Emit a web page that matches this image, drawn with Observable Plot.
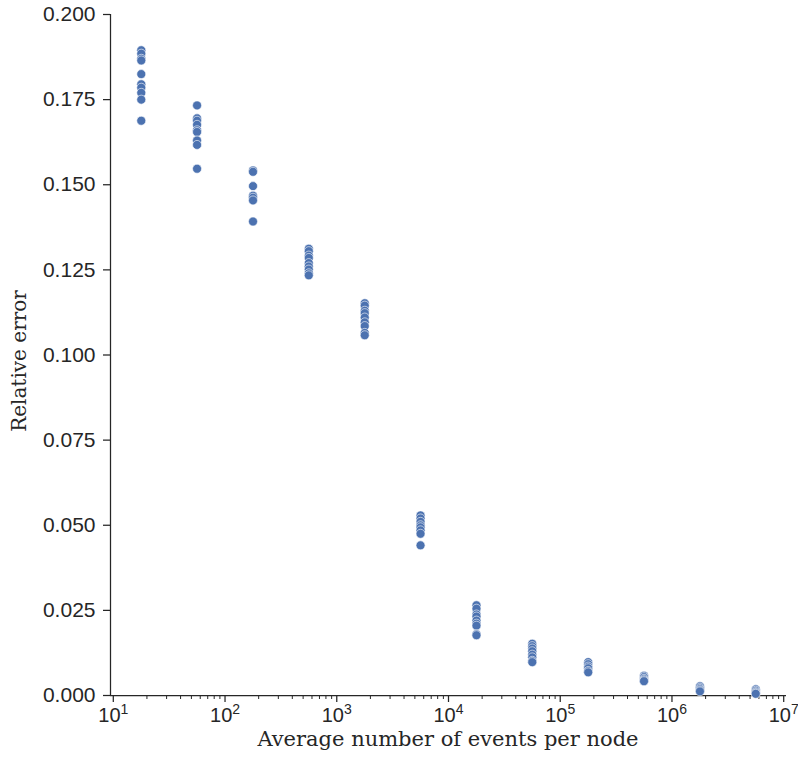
<!DOCTYPE html>
<html>
<head>
<meta charset="utf-8">
<script src="https://cdn.jsdelivr.net/npm/d3@7"></script>
<script src="https://cdn.jsdelivr.net/npm/@observablehq/plot@0.6"></script>
<style>
  html, body { margin: 0; padding: 0; background: #fff; }
  #chart svg { display: block; }
</style>
</head>
<body>
<div id="chart"></div>
<script>
// Average number of events per node (column positions)
const events = [17.8, 56.2, 178, 562, 1780, 5620, 17800, 56200, 178000, 562000, 1780000, 5620000];
// Relative error per run, one list per column
const err1  = [0.1895, 0.1885, 0.1870, 0.1865, 0.1825, 0.1795, 0.1785, 0.1770, 0.1750, 0.1688];
const err2  = [0.1733, 0.1695, 0.1688, 0.1676, 0.1660, 0.1655, 0.1630, 0.1617, 0.1547];
const err3  = [0.1542, 0.1538, 0.1496, 0.1468, 0.1462, 0.1454, 0.1392];
const err4  = [0.1312, 0.1305, 0.1292, 0.1285, 0.1270, 0.1260, 0.1251, 0.1240, 0.1234];
const err5  = [0.1152, 0.1145, 0.1130, 0.1123, 0.1110, 0.1096, 0.1085, 0.1065, 0.1058];
const err6  = [0.0529, 0.0520, 0.0510, 0.0500, 0.0494, 0.0485, 0.0475, 0.0441];
const err7  = [0.0265, 0.0255, 0.0238, 0.0232, 0.0220, 0.0211, 0.0205, 0.0180, 0.0177];
const err8  = [0.0152, 0.0145, 0.0138, 0.0130, 0.0120, 0.0112, 0.0102, 0.0098];
const err9  = [0.0098, 0.0092, 0.0085, 0.0080, 0.0072, 0.0068];
const err10 = [0.0058, 0.0054, 0.0049, 0.0045, 0.0042];
const err11 = [0.0027, 0.0023, 0.0019, 0.0015, 0.0012];
const err12 = [0.0018, 0.0014, 0.0010, 0.0007, 0.0005];
const errors = [err1, err2, err3, err4, err5, err6, err7, err8, err9, err10, err11, err12];

// Tick labels
const yTicks = [0, 0.025, 0.05, 0.075, 0.1, 0.125, 0.15, 0.175, 0.2];
const xMajor = [1e1, 1e2, 1e3, 1e4, 1e5, 1e6, 1e7];
const xExponents = ["1", "2", "3", "4", "5", "6", "7"];
const xMinorMult = [2, 3, 4, 5, 6, 7, 8, 9];

const data = [];
events.forEach((x, i) => errors[i].forEach(y => data.push({x, y})));

const xMinor = [];
xMajor.slice(0, -1).forEach(d => xMinorMult.forEach(m => xMinor.push(d * m)));

const xDomain = [Math.pow(10, 0.975), Math.pow(10, 7.025)];
const ink = "#262626";

const chart = Plot.plot({
  width: 798,
  height: 780,
  marginLeft: 110,
  marginRight: 12,
  marginTop: 14,
  marginBottom: 85,
  style: {fontFamily: "Liberation Sans, Arial, sans-serif", fontSize: "21px", color: ink, background: "#fff"},
  x: {type: "log", domain: xDomain},
  y: {domain: [0, 0.2]},
  marks: [
    Plot.axisY({
      ticks: yTicks, tickSize: 7, tickPadding: 8, tickFormat: d3.format(".3f"),
      stroke: ink, strokeWidth: 1.25, fontSize: 21, label: null
    }),
    Plot.axisX({
      ticks: xMajor, tickSize: 7, tickPadding: 5, tickFormat: d => "10^" + xExponents[xMajor.indexOf(d)],
      stroke: ink, strokeWidth: 1.25, fontSize: 20, label: null
    }),
    Plot.axisX({
      ticks: xMinor, tickSize: 4, tickFormat: () => "", stroke: ink, strokeWidth: 1, label: null
    }),
    Plot.ruleY([0], {stroke: ink, strokeWidth: 1.25}),
    Plot.ruleX([xDomain[0]], {stroke: ink, strokeWidth: 1.25}),
    Plot.dot(data, {x: "x", y: "y", r: 4.5, fill: "#4c72b0", stroke: "white", strokeWidth: 0.6})
  ]
});

const svg = d3.select(chart);

// Turn "10^k" tick labels into 10 with a raised exponent
svg.selectAll("text").each(function() {
  const t = d3.select(this);
  const s = t.text();
  const m = /^10\^(\d+)$/.exec(s);
  if (m) {
    t.text("");
    t.attr("text-anchor", "middle");
    t.append("tspan").text("10");
    t.append("tspan").attr("dy", "-0.55em").attr("font-size", 14).text(m[1]);
  }
});

// Axis titles in a serif face
svg.append("text")
  .attr("x", 448).attr("y", 746)
  .attr("text-anchor", "middle")
  .attr("font-family", "DejaVu Serif, serif")
  .attr("font-size", 21)
  .attr("fill", ink)
  .text("Average number of events per node");
svg.append("text")
  .attr("transform", "translate(26,361) rotate(-90)")
  .attr("text-anchor", "middle")
  .attr("font-family", "DejaVu Serif, serif")
  .attr("font-size", 20)
  .attr("fill", ink)
  .text("Relative error");

document.getElementById("chart").appendChild(chart);
</script>
</body>
</html>
